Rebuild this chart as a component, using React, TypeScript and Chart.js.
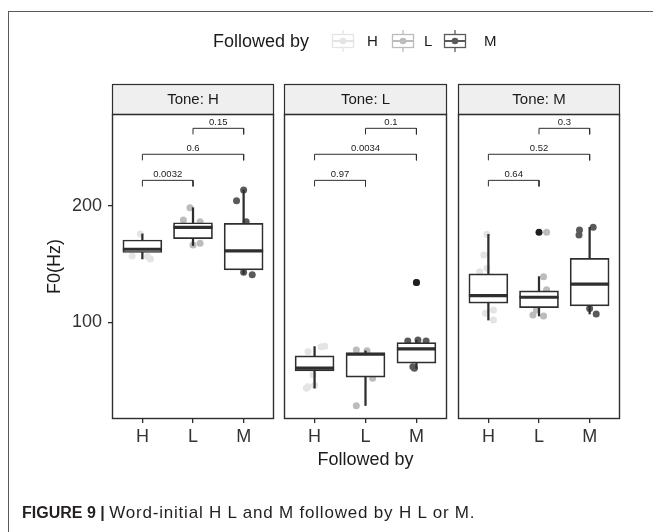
import React, { useEffect, useRef } from 'react';
import { Chart, registerables } from 'chart.js';

Chart.register(...registerables);

const FONT = "'Liberation Sans', Arial, Helvetica, sans-serif";

// ---------- data ----------
const categories = ['H', 'L', 'M'];
const tones = ['H', 'L', 'M'];
const yTicks = [100, 200];

// box statistics per category: [whiskerLow, q1, median, q3, whiskerHigh]
const boxToneH = [
  [154.5, 160, 162.8, 170.8, 176],
  [166, 172, 181.6, 185.6, 198.5],
  [141.5, 145, 161.4, 185.1, 213.7],
];
const boxToneL = [
  [43.5, 58.4, 60.7, 71.2, 79.2],
  [28.6, 53, 72.7, 73.6, 75.5],
  [60.5, 65, 77.3, 82.7, 84.8],
];
const boxToneM = [
  [102, 116.5, 123, 141.6, 175.6],
  [105.5, 112.7, 121.6, 127, 139.3],
  [107.2, 114.2, 132.8, 155, 181.7],
];

// outliers (category index, value)
const outliersToneH: [number, number][] = [];
const outliersToneL: [number, number][] = [[2, 134.2]];
const outliersToneM: [number, number][] = [[1, 177.4]];

// jittered observations: values and horizontal jitter offsets, per category
const valuesToneH = [
  [176, 157, 156.5, 154.5, 163, 168],
  [198.5, 188, 186.5, 166.5, 168, 176, 180],
  [213.7, 204.5, 186.5, 143, 141, 160, 150],
];
const jitterToneH = [
  [-0.04, -0.2, 0.1, 0.16, 0.05, -0.1],
  [-0.06, -0.19, 0.14, 0, 0.14, -0.12, 0.08],
  [0, -0.14, 0.05, 0, 0.17, -0.1, 0.1],
];
const valuesToneL = [
  [74.8, 79.1, 79.5, 44.7, 46, 43.5, 55, 66],
  [76.3, 75.7, 51.9, 28.4, 60, 68],
  [84, 84.8, 84, 61.9, 60.5, 134.2, 72, 79],
];
const jitterToneL = [
  [-0.13, 0.13, 0.2, -0.13, 0, -0.16, -0.03, 0.05],
  [-0.18, 0.03, 0.14, -0.18, 0.05, -0.08],
  [-0.17, 0.03, 0.19, -0.07, -0.04, 0, 0.1, -0.1],
];
const valuesToneM = [
  [175.6, 157.9, 146.4, 143.5, 110.6, 102, 107.8, 125, 132],
  [177.4, 139.2, 128, 106.3, 105.5, 110.6, 118, 123],
  [179.4, 175, 181.7, 112, 107.2, 125, 140],
];
const jitterToneM = [
  [-0.03, -0.09, -0.03, -0.17, 0.1, 0.1, -0.06, 0.05, -0.1],
  [0.15, 0.09, 0.15, -0.12, 0.09, -0.05, 0.05, -0.08],
  [-0.2, -0.21, 0.07, 0, 0.13, 0.1, -0.12],
];

// pairwise comparisons
const bracketPairs = [[1, 2], [1, 3], [2, 3]];
const bracketHeights = [222, 244.4, 266.7];
const bracketTip = 5.2;
const pLabelsToneH = ['0.0032', '0.6', '0.15'];
const pLabelsToneL = ['0.97', '0.0034', '0.1'];
const pLabelsToneM = ['0.64', '0.52', '0.3'];

// ---------- style / layout ----------
const pointColors = ['#e4e4e4', '#bcbcbc', '#5a5a5a'];
const INK = '#2e2e2e';
const panelLeft = [112, 284, 458];
const panelRight = [274, 447, 620];
const PANEL_TOP = 114;
const STRIP_TOP = 84;
const W = 653;
const H = 532;
const X_AXIS_H = 52;
const PAD_BOTTOM = H - 419 - X_AXIS_H;

const panels = [
  { box: boxToneH, out: outliersToneH, vals: valuesToneH, jit: jitterToneH, p: pLabelsToneH },
  { box: boxToneL, out: outliersToneL, vals: valuesToneL, jit: jitterToneL, p: pLabelsToneL },
  { box: boxToneM, out: outliersToneM, vals: valuesToneM, jit: jitterToneM, p: pLabelsToneM },
];

function makeConfig(pi: number): any {
  const panel = panels[pi];
  const datasets: any[] = [];
  categories.forEach((_, ci) => {
    datasets.push({
      type: 'scatter',
      data: panel.vals[ci].map((v, k) => ({ x: ci + 1 + panel.jit[ci][k], y: v })),
      pointBackgroundColor: pointColors[ci],
      pointBorderWidth: 0,
      pointRadius: 3.5,
      order: 10,
    });
  });
  datasets.push({
    type: 'bar',
    data: panel.box.map((s, ci) => ({ x: ci + 1, y: [s[0], s[4]] })),
    backgroundColor: INK,
    borderWidth: 0,
    barThickness: 1.6,
    grouped: false,
    order: 8,
  });
  datasets.push({
    type: 'bar',
    data: panel.box.map((s, ci) => ({ x: ci + 1, y: [s[1], s[3]] })),
    backgroundColor: '#ffffff',
    borderColor: INK,
    borderWidth: 1.7,
    borderSkipped: false,
    barThickness: 39,
    grouped: false,
    order: 6,
  });
  datasets.push({
    type: 'scatter',
    data: panel.box.map((s, ci) => ({ x: ci + 1, y: s[2] })),
    pointStyle: 'line',
    pointRadius: 19.5,
    pointBorderWidth: 3.2,
    pointBorderColor: INK,
    order: 4,
  });
  datasets.push({
    type: 'scatter',
    data: panel.out.map(([ci, v]) => ({ x: ci + 1, y: v })),
    pointBackgroundColor: '#1f1f1f',
    pointBorderWidth: 0,
    pointRadius: 3.5,
    order: 3,
  });
  bracketPairs.forEach(([a, b], k) => {
    const top = bracketHeights[k];
    datasets.push({
      type: 'line',
      data: [
        { x: a, y: top - bracketTip },
        { x: a, y: top },
        { x: b, y: top },
        { x: b, y: top - bracketTip },
      ],
      borderColor: INK,
      borderWidth: 1,
      pointRadius: 0,
      tension: 0,
      fill: false,
      order: 1,
    });
  });

  const decor = {
    id: 'decor' + pi,
    afterDraw(chart: any) {
      const { ctx, chartArea } = chart;
      const l = Math.round(chartArea.left);
      const r = Math.round(chartArea.right);
      const t = Math.round(chartArea.top);
      const b = Math.round(chartArea.bottom);
      ctx.save();
      // strip
      ctx.fillStyle = '#efefef';
      ctx.fillRect(l, STRIP_TOP, r - l, t - STRIP_TOP);
      ctx.strokeStyle = INK;
      ctx.lineWidth = 1.2;
      ctx.strokeRect(l + 0.5, STRIP_TOP + 0.5, r - l - 1, t - STRIP_TOP);
      ctx.fillStyle = '#1a1a1a';
      ctx.font = `15px ${FONT}`;
      ctx.textAlign = 'center';
      ctx.textBaseline = 'middle';
      ctx.fillText('Tone: ' + tones[pi], (l + r) / 2, (STRIP_TOP + t) / 2 + 1);
      // panel border
      ctx.lineWidth = 1.4;
      ctx.strokeRect(l + 0.5, t + 0.5, r - l - 1, b - t - 1);
      // p-value labels
      const xs = chart.scales.x;
      const ys = chart.scales.y;
      ctx.font = `9.5px ${FONT}`;
      ctx.fillStyle = '#222';
      ctx.textBaseline = 'bottom';
      bracketPairs.forEach(([a, bb], k) => {
        const xm = (xs.getPixelForValue(a) + xs.getPixelForValue(bb)) / 2;
        const yp = ys.getPixelForValue(bracketHeights[k]);
        ctx.fillText(panel.p[k], xm, yp - 1.5);
      });
      ctx.restore();
    },
  };

  return {
    type: 'scatter',
    data: { datasets },
    plugins: [decor],
    options: {
      animation: false,
      responsive: false,
      events: [],
      devicePixelRatio: 1,
      layout: {
        padding: {
          left: pi === 0 ? 0 : panelLeft[pi],
          right: W - panelRight[pi],
          top: PANEL_TOP,
          bottom: PAD_BOTTOM,
        },
      },
      plugins: { legend: { display: false }, tooltip: { enabled: false }, title: { display: false } },
      scales: {
        x: {
          type: 'linear',
          min: 0.4,
          max: 3.6,
          offset: false,
          afterBuildTicks: (s: any) => {
            s.ticks = categories.map((_, i) => ({ value: i + 1 }));
          },
          afterFit: (s: any) => {
            s.height = X_AXIS_H;
          },
          ticks: {
            callback: (v: any) => categories[Math.round(Number(v)) - 1],
            font: { size: 18, family: FONT },
            color: '#333333',
            padding: 3,
            maxRotation: 0,
            autoSkip: false,
          },
          grid: {
            offset: false,
            drawOnChartArea: false,
            drawTicks: true,
            tickLength: 4,
            color: INK,
            lineWidth: 1.3,
          },
          border: { display: false },
          title: {
            display: pi === 1,
            text: 'Followed by',
            font: { size: 18, family: FONT },
            color: '#1a1a1a',
            padding: { top: 0, bottom: 0 },
          },
        },
        y: {
          type: 'linear',
          min: 17,
          max: 279,
          display: pi === 0,
          afterBuildTicks: (s: any) => {
            s.ticks = yTicks.map((v) => ({ value: v }));
          },
          ...(pi === 0
            ? {
                afterFit: (s: any) => {
                  s.width = panelLeft[0];
                },
              }
            : {}),
          ticks: { font: { size: 18, family: FONT }, color: '#333333', padding: 6 },
          grid: { drawOnChartArea: false, drawTicks: true, tickLength: 4, color: INK, lineWidth: 1.3 },
          border: { display: false },
          title: {
            display: true,
            text: 'F0(Hz)',
            font: { size: 18, family: FONT },
            color: '#1a1a1a',
            padding: { top: 44, bottom: 0 },
          },
        },
      },
    },
  };
}

function Panel({ index }: { index: number }) {
  const ref = useRef<HTMLCanvasElement | null>(null);
  useEffect(() => {
    if (!ref.current) return;
    const chart = new Chart(ref.current, makeConfig(index));
    return () => chart.destroy();
  }, [index]);
  return (
    <canvas
      ref={ref}
      width={W}
      height={H}
      style={{ position: 'absolute', left: 0, top: 0, width: W, height: H }}
    />
  );
}

function LegendKey({ color }: { color: string }) {
  return (
    <svg width={24} height={24} style={{ display: 'block' }}>
      <line x1={12} y1={1} x2={12} y2={23} stroke={color} strokeWidth={1.3} />
      <rect x={1.5} y={5.5} width={21} height={13} fill="#fff" stroke={color} strokeWidth={1.3} />
      <line x1={1.5} y1={12} x2={22.5} y2={12} stroke={color} strokeWidth={2} />
      <circle cx={12} cy={12} r={3.3} fill={color} />
    </svg>
  );
}

const legendKeyX = [343, 403, 455];
const legendLabelX = [373, 430, 490];

export default function App() {
  return (
    <div
      style={{
        position: 'absolute',
        left: 0,
        top: 0,
        width: W,
        height: H,
        overflow: 'hidden',
        background: '#fff',
        fontFamily: FONT,
      }}
    >
      <div
        style={{
          position: 'absolute',
          left: 8,
          top: 11,
          width: W,
          height: H,
          borderTop: '1px solid #5a5a5a',
          borderLeft: '1px solid #5a5a5a',
        }}
      />
      {[0, 1, 2].map((i) => (
        <Panel key={i} index={i} />
      ))}
      <div
        style={{
          position: 'absolute',
          left: 213,
          top: 30,
          fontSize: 18,
          lineHeight: '22px',
          color: '#1a1a1a',
          whiteSpace: 'nowrap',
        }}
      >
        Followed by
      </div>
      {categories.map((c, i) => (
        <React.Fragment key={c}>
          <div style={{ position: 'absolute', left: legendKeyX[i] - 12, top: 29 }}>
            <LegendKey color={pointColors[i]} />
          </div>
          <div
            style={{
              position: 'absolute',
              left: legendLabelX[i] - 6,
              top: 32,
              fontSize: 15,
              lineHeight: '18px',
              color: '#1a1a1a',
            }}
          >
            {c}
          </div>
        </React.Fragment>
      ))}
      <div
        style={{
          position: 'absolute',
          left: 22,
          top: 503,
          fontSize: 17,
          lineHeight: '20px',
          color: '#231f20',
          whiteSpace: 'nowrap',
        }}
      >
        <b style={{ fontSize: 16, letterSpacing: 0 }}>FIGURE 9 | </b>
        <span style={{ letterSpacing: '0.8px' }}>Word-initial H L and M followed by H L or M.</span>
      </div>
    </div>
  );
}
